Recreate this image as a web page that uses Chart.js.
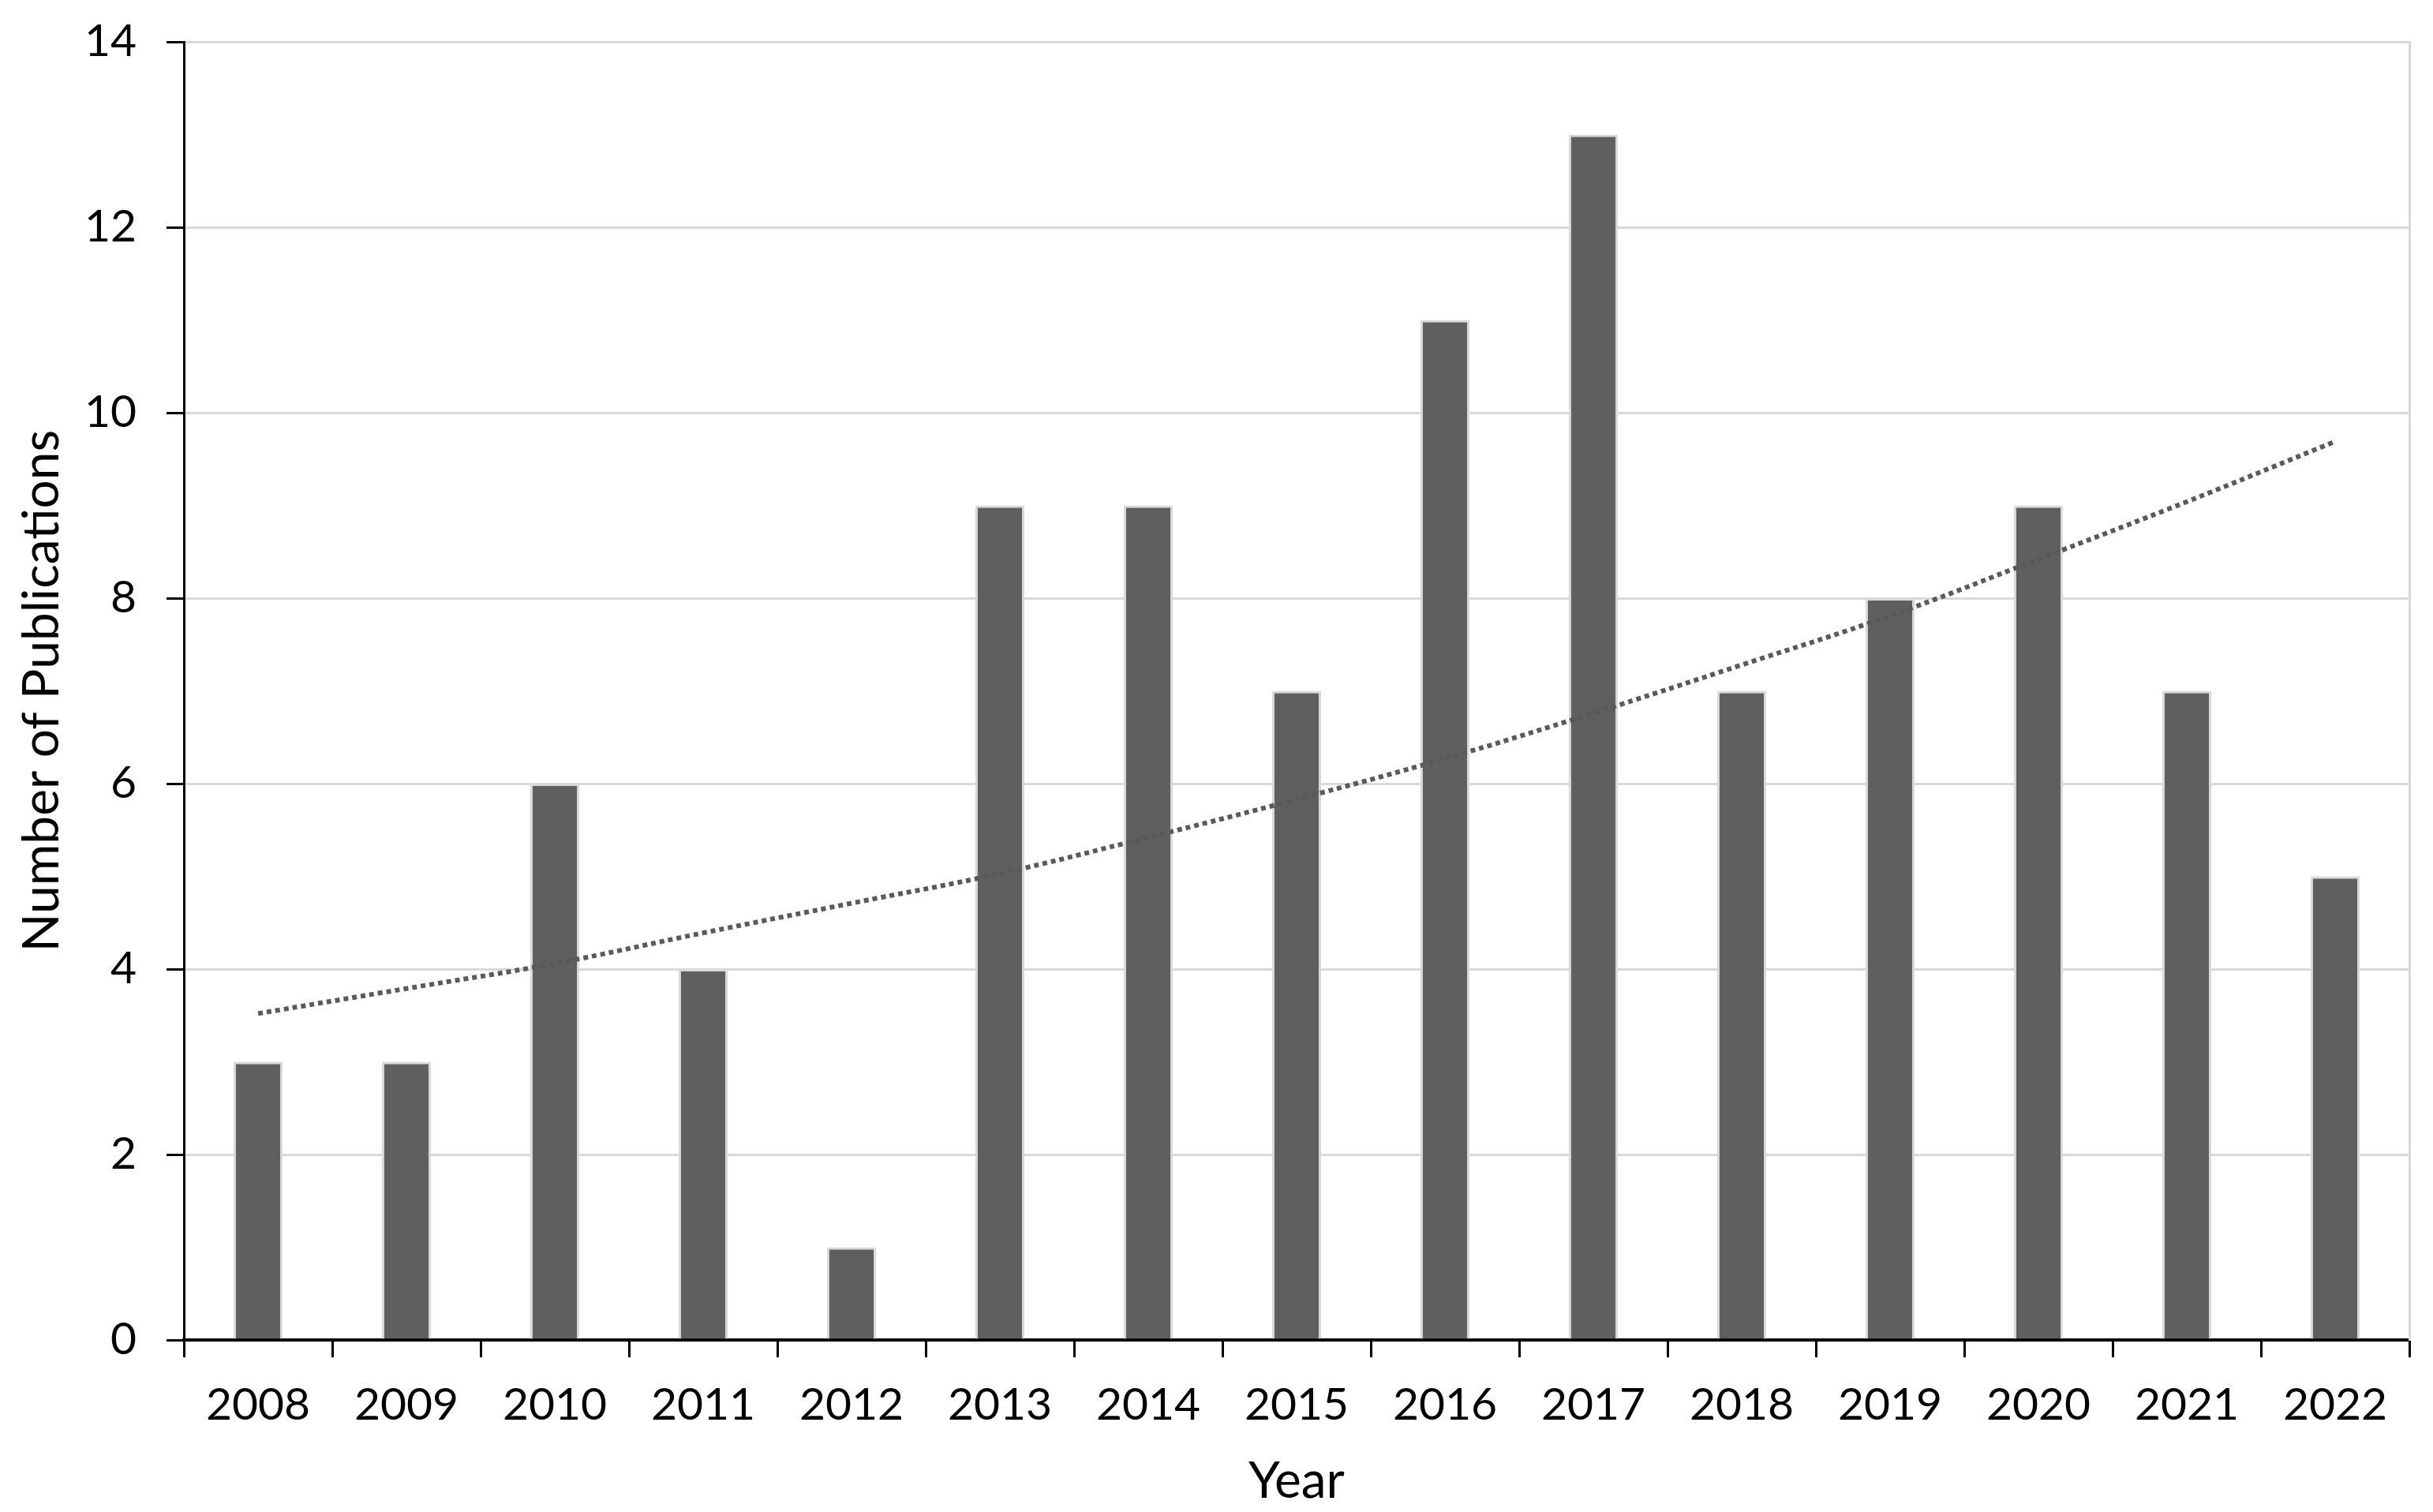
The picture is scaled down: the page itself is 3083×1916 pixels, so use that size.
<!DOCTYPE html>
<html lang="en">
<head>
  <meta charset="UTF-8">
  <title>Number of Publications per Year</title>
  <script src="https://cdn.jsdelivr.net/npm/chart.js"></script>
  <style>
    body {
      margin: 0;
      background: #fff;
    }
    #wrap {
      width: 3083px;
      height: 1916px;
    }
  </style>
</head>
<body>
  <div id="wrap">
    <canvas id="pubChart" width="3083" height="1916"></canvas>
  </div>

  <script>
  const years = ["2008", "2009", "2010", "2011", "2012", "2013", "2014", "2015",
                 "2016", "2017", "2018", "2019", "2020", "2021", "2022"];
  const publications = [3, 3, 6, 4, 1, 9, 9, 7, 11, 13, 7, 8, 9, 7, 5];
  // trendline at each year
  const trend = [3.52, 3.79, 4.06, 4.39, 4.71, 5.03, 5.42, 5.83,
                 6.27, 6.76, 7.28, 7.81, 8.42, 9.04, 9.69];
  const yTicks = [0, 2, 4, 6, 8, 10, 12, 14];

  const fontFamily = "Lato, 'Liberation Sans', sans-serif";
  const tickFont = { family: fontFamily, size: 57, lineHeight: 1 };
  const titleFont = { family: fontFamily, size: 64, lineHeight: 1 };

  const ctx = document.getElementById("pubChart").getContext("2d");
  new Chart(ctx, {
    type: "bar",
    data: {
      labels: years,
      datasets: [
        {
          type: "line",
          label: "Trend",
          data: trend,
          borderColor: "#5a5a5a",
          borderWidth: 6,
          borderDash: [6, 5],
          pointRadius: 0,
          tension: 0.4,
          fill: false,
          order: 0
        },
        {
          label: "Publications",
          data: publications,
          backgroundColor: "#5f5f5f",
          borderColor: "#d9d9d9",
          borderWidth: 3,
          barPercentage: 0.33,
          categoryPercentage: 1.0,
          order: 1
        }
      ]
    },
    options: {
      responsive: false,
      devicePixelRatio: 1,
      animation: false,
      layout: { padding: { left: 21, right: 30, top: 0, bottom: 0 } },
      plugins: {
        legend: { display: false },
        tooltip: { enabled: false }
      },
      scales: {
        x: {
          afterFit: axis => { axis.height = 218; },
          grid: {
            display: true,
            drawOnChartArea: false,
            offset: true,
            tickLength: 22,
            tickColor: "#000",
            lineWidth: 3
          },
          border: { color: "#000", width: 4 },
          ticks: { color: "#000", font: tickFont, padding: 32 },
          title: {
            display: true,
            text: "Year",
            color: "#000",
            font: titleFont,
            padding: { top: 0, bottom: 7 }
          }
        },
        y: {
          min: 0,
          max: 14,
          afterFit: axis => {
            axis.width = 212;
            axis.paddingTop = 53;
          },
          afterBuildTicks: axis => {
            axis.ticks = yTicks.map(v => ({ value: v }));
          },
          grid: {
            color: "#d9d9d9",
            lineWidth: 3,
            tickColor: "#000",
            tickLength: 22
          },
          border: { color: "#000", width: 3 },
          ticks: { color: "#000", font: tickFont, padding: 38 },
          title: {
            display: true,
            text: "Number of Publications",
            color: "#000",
            font: titleFont,
            padding: { top: 0, bottom: 0 }
          }
        },
        yRight: {
          position: "right",
          min: 0,
          max: 14,
          afterFit: axis => {
            axis.width = 0;
            axis.paddingTop = 0;
          },
          grid: { drawOnChartArea: false, drawTicks: false },
          ticks: { display: false },
          border: { color: "#d9d9d9", width: 3 }
        }
      }
    }
  });
  </script>
</body>
</html>
